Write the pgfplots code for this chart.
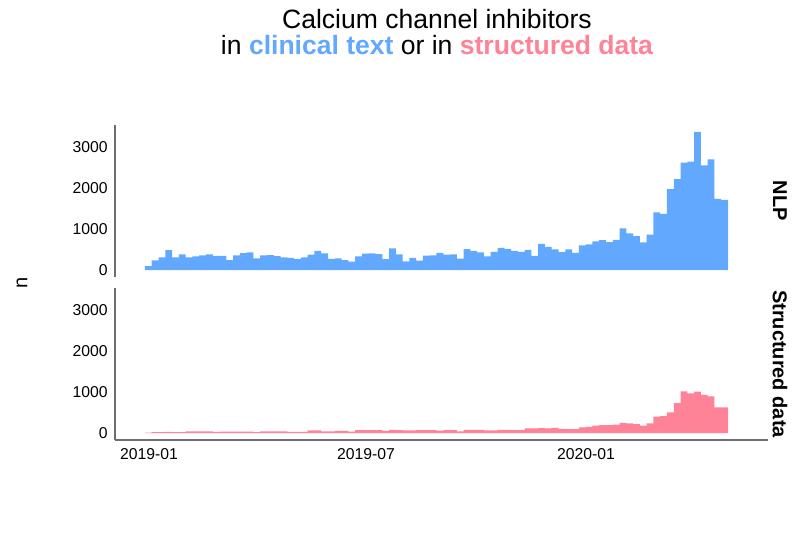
\documentclass[border=0pt]{standalone}
\usepackage{pgfplots}
\pgfplotsset{compat=1.18}
\usepackage{fontspec}
\setmainfont{Liberation Sans}
\definecolor{nlpblue}{RGB}{99,168,255}
\definecolor{strpink}{RGB}{255,131,150}
\definecolor{axgray}{RGB}{110,110,110}

\begin{document}
\begin{tikzpicture}
% 1 px of the 800x533 reference = 0.75pt
\path[use as bounding box] (0,0) rectangle (600pt,399.75pt);

\pgfplotsset{
  panel/.style={
    scale only axis, width=489.75pt, height=114pt,
    xmin=-4.42, xmax=91.9, ymin=-168, ymax=3538,
    ytick={0,1000,2000,3000},
    scaled y ticks=false,
    /pgf/number format/1000 sep={},
    /pgf/number format/assume math mode=true,
    major tick length=0pt,
    tick label style={font=\fontsize{11.8}{14}\selectfont},
    yticklabel style={xshift=-2pt},
    axis line style={-, draw=axgray, line width=1.1pt},
    clip=false,
  },
}

% NLP panel
\begin{axis}[panel, at={(86.25pt,192pt)}, anchor=south west,
  axis x line=none, axis y line*=left, xtick=\empty]
\addplot[const plot mark left, fill=nlpblue, draw=none] coordinates {
(0,100) (1,240) (2,310) (3,490) (4,310) (5,385) (6,310) (7,335) (8,360) (9,385)
(10,345) (11,350) (12,245) (13,360) (14,415) (15,430) (16,285) (17,360) (18,365) (19,340)
(20,310) (21,300) (22,270) (23,310) (24,375) (25,470) (26,410) (27,275) (28,285) (29,245)
(30,205) (31,335) (32,400) (33,410) (34,390) (35,270) (36,530) (37,385) (38,215) (39,300)
(40,230) (41,355) (42,360) (43,420) (44,380) (45,385) (46,280) (47,510) (48,470) (49,430)
(50,335) (51,445) (52,540) (53,520) (54,470) (55,445) (56,495) (57,345) (58,640) (59,565)
(60,505) (61,440) (62,505) (63,420) (64,600) (65,630) (66,700) (67,730) (68,685) (69,740)
(70,1015) (71,895) (72,830) (73,675) (74,865) (75,1405) (76,1370) (77,1975) (78,2220) (79,2620)
(80,2645) (81,3370) (82,2555) (83,2700) (84,1735) (85,1710) (86,1710)
} \closedcycle;
\end{axis}

% Structured data panel
\begin{axis}[panel, at={(86.25pt,69.75pt)}, anchor=south west,
  axis x line*=bottom, axis y line*=left,
  xtick={0.59,32.6,65.04}, xticklabels={2019-01,2019-07,2020-01},
  xticklabel style={yshift=-3pt}]
\addplot[const plot mark left, fill=strpink, draw=none] coordinates {
(0,10) (1,25) (2,25) (3,30) (4,25) (5,25) (6,40) (7,40) (8,40) (9,40)
(10,30) (11,35) (12,35) (13,35) (14,35) (15,35) (16,25) (17,40) (18,40) (19,40)
(20,40) (21,30) (22,30) (23,30) (24,65) (25,65) (26,45) (27,45) (28,55) (29,55)
(30,35) (31,70) (32,75) (33,70) (34,75) (35,55) (36,80) (37,75) (38,65) (39,65)
(40,70) (41,75) (42,70) (43,60) (44,75) (45,75) (46,45) (47,80) (48,80) (49,80)
(50,65) (51,65) (52,80) (53,80) (54,75) (55,75) (56,115) (57,115) (58,120) (59,115)
(60,130) (61,105) (62,100) (63,100) (64,140) (65,155) (66,180) (67,195) (68,195) (69,205)
(70,250) (71,235) (72,220) (73,180) (74,235) (75,400) (76,415) (77,505) (78,730) (79,1020)
(80,970) (81,1010) (82,930) (83,895) (84,630) (85,625) (86,625)
} \closedcycle;
\end{axis}

% title
\node[anchor=base, font=\fontsize{19.9}{23}\selectfont] at (327.75pt,378pt)
  {Calcium channel inhibitors};
\node[anchor=base, font=\fontsize{19.9}{23}\selectfont] at (327.75pt,358.5pt)
  {in \textcolor{nlpblue}{\bfseries clinical text} or in \textcolor{strpink}{\bfseries structured data}};

% axis title and strips
\node[rotate=90, font=\fontsize{15}{18}\selectfont] at (16.5pt,187.5pt) {n};
\node[rotate=-90, font=\fontsize{15}{18}\selectfont\bfseries] at (585pt,249pt) {NLP};
\node[rotate=-90, font=\fontsize{15}{18}\selectfont\bfseries] at (585pt,126.75pt) {Structured data};
\end{tikzpicture}
\end{document}
